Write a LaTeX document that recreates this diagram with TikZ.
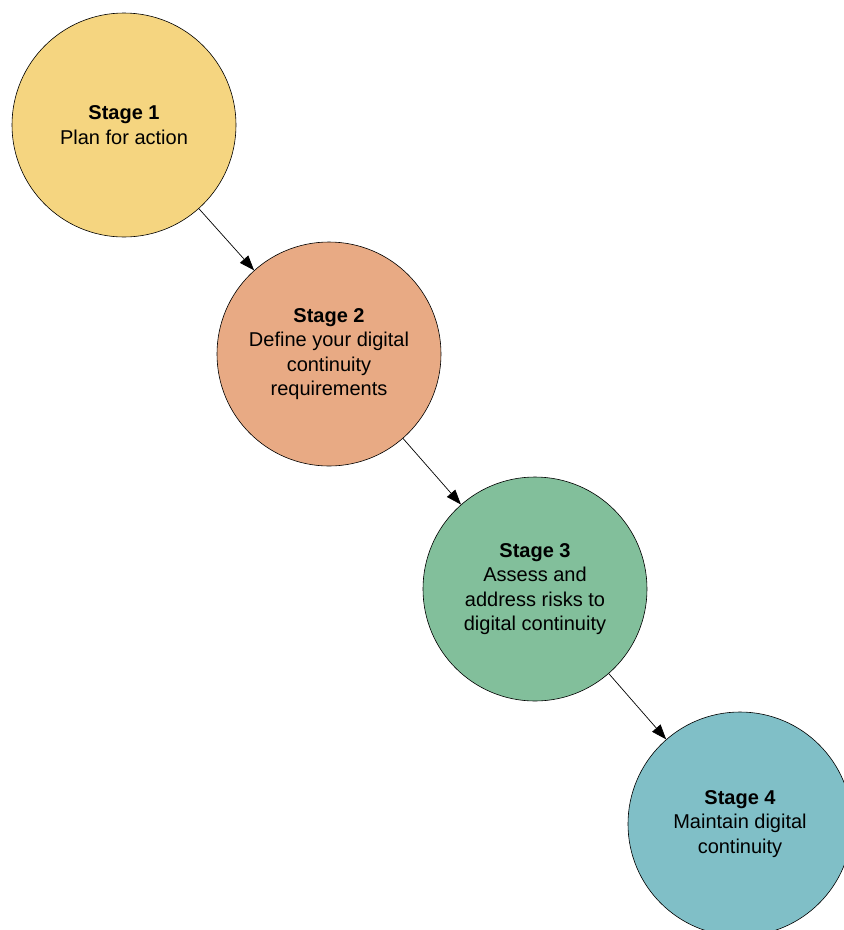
\documentclass[tikz,border=0pt]{standalone}
\usepackage{fontspec}
\setmainfont{Liberation Sans}
\usetikzlibrary{arrows.meta}
\definecolor{stageyellow}{RGB}{245,213,128}
\definecolor{stagesalmon}{RGB}{232,170,132}
\definecolor{stagegreen}{RGB}{130,191,155}
\definecolor{stageteal}{RGB}{128,191,199}
\tikzset{snode/.style = {shape = circle,
                         draw = black,
                         line width = 0.6pt,
                         inner sep = 0pt,
                         minimum size = 224pt,
                         align = center,
                         font = \fontsize{20}{24.5}\selectfont},
         sarrow/.style = {line width = 0.7pt,
                          -{Triangle[length=15pt,width=11pt]}}}
\begin{document}
\begin{tikzpicture}[x=1pt,y=-1pt]
		\useasboundingbox (0,0) rectangle (844,930);
		\node[snode, fill = stageyellow] (s1) at (124,125) {\textbf{Stage 1}\\Plan for action};
		\node[snode, fill = stagesalmon] (s2) at (329,354) {\textbf{Stage 2}\\Define your digital\\continuity\\requirements};
		\node[snode, fill = stagegreen] (s3) at (535,589) {\textbf{Stage 3}\\Assess and\\address risks to\\digital continuity};
		\node[snode, fill = stageteal] (s4) at (740,824) {\textbf{Stage 4}\\Maintain digital\\continuity};
		\path (s1) edge[sarrow] (s2);
		\path (s2) edge[sarrow] (s3);
		\path (s3) edge[sarrow] (s4);
	\end{tikzpicture}
\end{document}
